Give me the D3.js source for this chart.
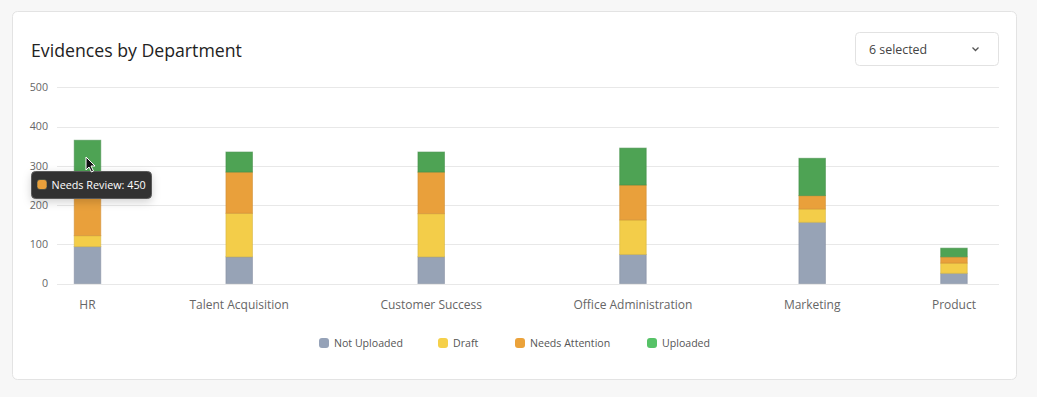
<!DOCTYPE html>
<html>
<head>
<meta charset="utf-8">
<script src="https://cdn.jsdelivr.net/npm/d3@7"></script>
<style>
  html, body { margin: 0; padding: 0; background: #f7f7f7; }
  svg { display: block; font-family: "Open Sans", sans-serif; }
</style>
</head>
<body>
<svg id="chart" width="1037" height="397"></svg>
<script>
const categories = ["HR", "Talent Acquisition", "Customer Success", "Office Administration", "Marketing", "Product"];
const seriesNames = ["Not Uploaded", "Draft", "Needs Attention", "Uploaded"];
const notUploaded = [94, 68, 68, 74, 156, 26];
const draft = [28, 111, 110, 88, 34, 26];
const needsAttention = [160, 105, 106, 89, 34, 16];
const uploaded = [83, 51, 51, 94, 95, 22];
const yTicks = [0, 100, 200, 300, 400, 500];
const tooltipText = "Needs Review: 450";

const barColors = ["#97a3b6", "#f3cd49", "#e9a03b", "#4ea354"];
const legendColors = ["#95a2b8", "#f5d04a", "#eba23a", "#56c267"];

const svg = d3.select("#chart");

// card
svg.append("rect")
    .attr("x", 12.5).attr("y", 11.5)
    .attr("width", 1004).attr("height", 368)
    .attr("rx", 5)
    .attr("fill", "#fff")
    .attr("stroke", "#e3e3e3");

svg.append("text")
    .attr("x", 31).attr("y", 57)
    .attr("font-size", 17.7)
    .attr("fill", "#222")
    .text("Evidences by Department");

// dropdown
const dd = svg.append("g");
dd.append("rect")
    .attr("x", 855.5).attr("y", 32.5)
    .attr("width", 143).attr("height", 33)
    .attr("rx", 4)
    .attr("fill", "#fff")
    .attr("stroke", "#e2e2e2");
dd.append("text")
    .attr("x", 869).attr("y", 54)
    .attr("font-size", 12.4)
    .attr("fill", "#444")
    .text("6 selected");
dd.append("path")
    .attr("d", "M972.5,47.5 L975.5,50.5 L978.5,47.5")
    .attr("fill", "none")
    .attr("stroke", "#555")
    .attr("stroke-width", 1.3);

// y scale + grid
const y = d3.scaleLinear().domain([0, 500]).range([283.5, 87.3]);

const grid = svg.append("g");
grid.selectAll("line")
    .data(yTicks)
    .join("line")
    .attr("x1", 57).attr("x2", 999)
    .attr("y1", d => Math.round(y(d)) + 0.5)
    .attr("y2", d => Math.round(y(d)) + 0.5)
    .attr("stroke", "#e8e8e8");

svg.append("g")
    .attr("transform", "translate(48,0)")
    .call(d3.axisLeft(y).tickValues(yTicks).tickSize(0).tickPadding(0))
    .call(g => g.select(".domain").remove())
    .call(g => g.selectAll("text")
        .attr("font-family", "Open Sans, sans-serif")
        .attr("font-size", 10.7)
        .attr("fill", "#666"));

// x labels laid out like a space-between row (min cell width), then an ordinal scale from the centres
const xLabels = svg.append("g");
const labels = xLabels.selectAll("text")
    .data(categories)
    .join("text")
    .attr("font-size", 12)
    .attr("fill", "#666")
    .attr("text-anchor", "middle")
    .attr("y", 309)
    .text(d => d);

const widths = [];
labels.each(function() { widths.push(Math.max(21, this.getComputedTextLength())); });
const rowLeft = 77, rowRight = 976;
const gap = (rowRight - rowLeft - d3.sum(widths)) / (categories.length - 1);
const centers = [];
let cursorX = rowLeft;
widths.forEach(w => { centers.push(cursorX + w / 2); cursorX += w + gap; });

const x = d3.scaleOrdinal().domain(categories).range(centers);
labels.attr("x", d => x(d));

// stacked bars
const table = categories.map((c, i) => ({
    category: c,
    "Not Uploaded": notUploaded[i],
    "Draft": draft[i],
    "Needs Attention": needsAttention[i],
    "Uploaded": uploaded[i]
}));
const stacked = d3.stack().keys(seriesNames)(table);
const color = d3.scaleOrdinal().domain(seriesNames).range(barColors);
const barWidth = 26.5;

svg.append("g")
    .selectAll("g")
    .data(stacked)
    .join("g")
    .attr("fill", d => color(d.key))
    .attr("stroke", d => d3.color(color(d.key)).darker(0.35))
    .attr("stroke-opacity", 0.6)
    .selectAll("rect")
    .data(d => d)
    .join("rect")
    .attr("x", d => x(d.data.category) - barWidth / 2)
    .attr("y", d => y(d[1]))
    .attr("width", barWidth)
    .attr("height", d => y(d[0]) - y(d[1]));

// legend
const legendX = [319, 438, 515, 647];
const legend = svg.append("g")
    .selectAll("g")
    .data(seriesNames)
    .join("g")
    .attr("transform", (d, i) => `translate(${legendX[i]},338)`);
legend.append("rect")
    .attr("width", 10).attr("height", 10).attr("rx", 3)
    .attr("fill", (d, i) => legendColors[i]);
legend.append("text")
    .attr("x", 15).attr("y", 9)
    .attr("font-size", 10.6)
    .attr("fill", "#555")
    .text(d => d);

// tooltip
const defs = svg.append("defs");
const f = defs.append("filter").attr("id", "shadow").attr("x", "-20%").attr("y", "-40%").attr("width", "140%").attr("height", "200%");
f.append("feDropShadow").attr("dx", 0).attr("dy", 3).attr("stdDeviation", 4).attr("flood-color", "#000").attr("flood-opacity", 0.18);

const tip = svg.append("g");
tip.append("rect")
    .attr("x", 31.5).attr("y", 171.5)
    .attr("width", 120).attr("height", 27)
    .attr("rx", 4)
    .attr("fill", "#333")
    .attr("stroke", "#5a5a5a")
    .attr("filter", "url(#shadow)");
tip.append("rect")
    .attr("x", 37).attr("y", 179.5)
    .attr("width", 10).attr("height", 10).attr("rx", 3)
    .attr("fill", barColors[2])
    .attr("stroke", "#1d3a4a").attr("stroke-width", 0.6);
tip.append("text")
    .attr("x", 51.5).attr("y", 189)
    .attr("font-size", 10.8)
    .attr("fill", "#fff")
    .text(tooltipText);

// mouse pointer
svg.append("path")
    .attr("d", "M86,157 L86,170 L89,167 L91.5,172 L93.5,171 L91,166 L95,166 Z")
    .attr("fill", "#111")
    .attr("stroke", "#fff")
    .attr("stroke-width", 1)
    .attr("stroke-linejoin", "round");
</script>
</body>
</html>
